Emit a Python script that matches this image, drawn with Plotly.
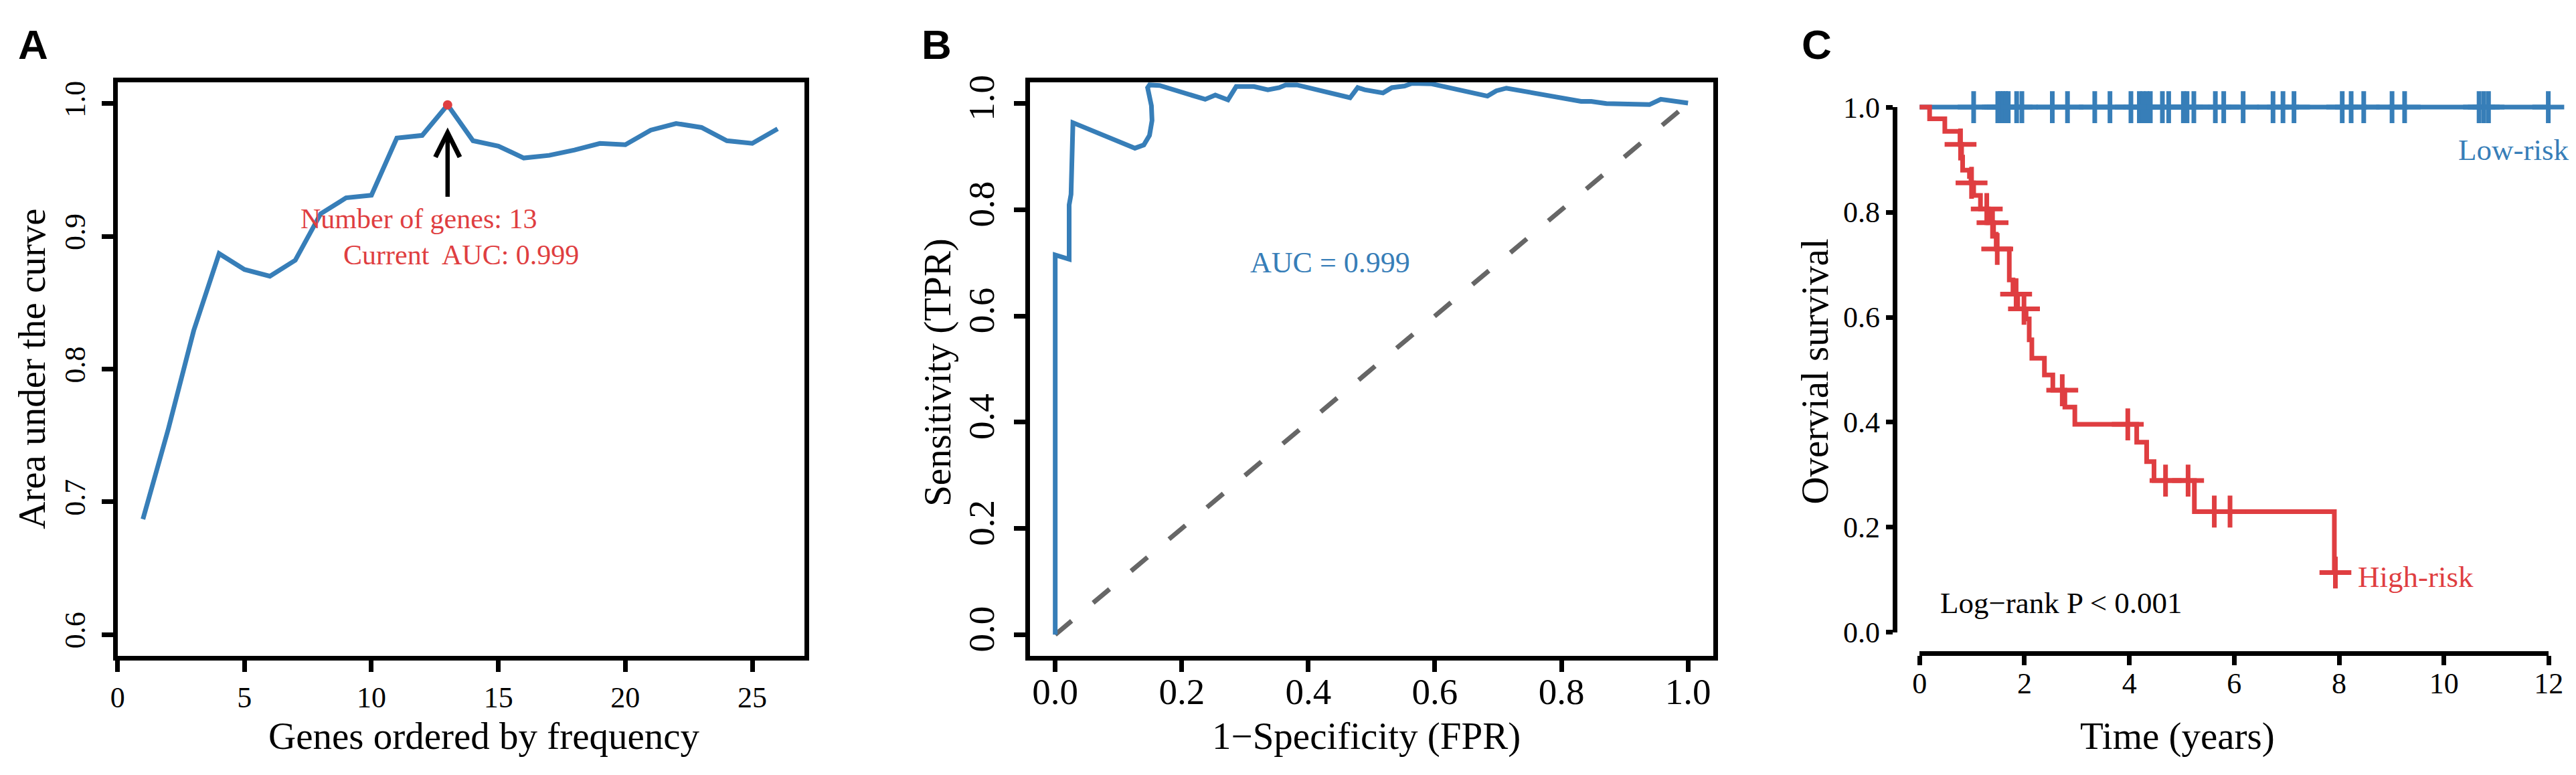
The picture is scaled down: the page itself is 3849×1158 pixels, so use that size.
import plotly.graph_objects as go

W, H = 3849, 1158
SERIF = "Liberation Serif, Times New Roman, serif"
SANS = "Liberation Sans, Arial, sans-serif"
BLUE = "#377EB8"
RED = "#DF3E41"
GRAY = "#666666"
LW = 7

# ---------------- Panel A data ----------------
gene_counts = [1, 2, 3, 4, 5, 6, 7, 8, 9, 10, 11, 12, 13,
               14, 15, 16, 17, 18, 19, 20, 21, 22, 23, 24, 25, 26]
auc_by_count = [0.687, 0.755, 0.829, 0.887, 0.875, 0.870, 0.882, 0.917, 0.929,
                0.931, 0.974, 0.976, 0.999, 0.972, 0.968, 0.959, 0.961, 0.965,
                0.970, 0.969, 0.980, 0.985, 0.982, 0.972, 0.970, 0.981]
a_xticks = [0, 5, 10, 15, 20, 25]
a_yticks = [0.6, 0.7, 0.8, 0.9, 1.0]
a_yticklabels = ["0.6", "0.7", "0.8", "0.9", "1.0"]

# ---------------- Panel B data ----------------
roc_fpr = [0.000, 0.000, 0.022, 0.022, 0.025, 0.028, 0.126, 0.140, 0.149, 0.153,
           0.152, 0.146, 0.149, 0.165, 0.237, 0.253, 0.273, 0.286, 0.314, 0.336,
           0.354, 0.364, 0.382, 0.466, 0.478, 0.489, 0.518, 0.532, 0.552, 0.564,
           0.595, 0.683, 0.697, 0.713, 0.831, 0.847, 0.871, 0.891, 0.905, 0.939,
           0.957, 1.000]
roc_tpr = [0.000, 0.715, 0.707, 0.809, 0.829, 0.964, 0.916, 0.922, 0.940, 0.968,
           0.996, 1.030, 1.035, 1.034, 1.008, 1.016, 1.007, 1.032, 1.032, 1.026,
           1.030, 1.035, 1.035, 1.011, 1.030, 1.026, 1.020, 1.030, 1.033, 1.038,
           1.037, 1.014, 1.024, 1.029, 1.004, 1.004, 1.000, 1.000, 0.998, 0.998,
           1.008, 1.001]
chance_line = [0.0, 1.0]
b_ticks = [0.0, 0.2, 0.4, 0.6, 0.8, 1.0]
b_ticklabels = ["0.0", "0.2", "0.4", "0.6", "0.8", "1.0"]
roc_auc = 0.999

# ---------------- Panel C data ----------------
high_step_times = [0.0, 0.19, 0.48, 0.77, 0.80, 0.82, 0.95, 0.98, 1.03, 1.16, 1.31,
                   1.41, 1.46, 1.71, 1.78, 1.87, 2.03, 2.09, 2.14, 2.38, 2.54, 2.77,
                   2.96, 4.14, 4.33, 4.47, 5.24, 7.91]
high_step_surv = [1.000, 0.978, 0.954, 0.929, 0.905, 0.880, 0.868, 0.856, 0.832,
                  0.806, 0.780, 0.758, 0.730, 0.671, 0.644, 0.616, 0.597, 0.557,
                  0.522, 0.490, 0.461, 0.429, 0.396, 0.362, 0.325, 0.289, 0.230,
                  0.114]
high_censor_times = [0.78, 0.99, 1.28, 1.39, 1.48, 1.84, 1.99, 2.72, 3.97,
                     4.69, 5.12, 5.62, 5.92, 7.93]
low_censor_times = [1.03, 1.49, 1.54, 1.59, 1.64, 1.69, 1.85, 1.95, 2.53, 2.82,
                    3.34, 3.63, 4.03, 4.19, 4.26, 4.33, 4.40, 4.63, 4.75, 5.03,
                    5.10, 5.23, 5.64, 5.80, 6.17, 6.74, 6.93, 7.14, 8.06, 8.23,
                    8.47, 9.01, 9.25, 10.67, 10.76, 10.85, 11.99]
c_xticks = [0, 2, 4, 6, 8, 10, 12]
c_yticks = [0.0, 0.2, 0.4, 0.6, 0.8, 1.0]
c_yticklabels = ["0.0", "0.2", "0.4", "0.6", "0.8", "1.0"]


def surv_at(t):
    s = high_step_surv[0]
    for tt, ss in zip(high_step_times, high_step_surv):
        if tt <= t:
            s = ss
    return s


def px_x(px):
    return px / W


def px_y(py):
    return 1 - py / H


# ---------------- layout geometry (pixels) ----------------
A_X = (158, 1193)
B_X = (1533, 2563)
AB_Y = (95, 990)          # top, bottom
C_X = (2836, W)
C_Y = (101, 986)
A_XR = [0, 27.05]
A_YR = [0.584, 1.016]
B_R = [-0.04, 1.04]
C_XR = [-0.48, 12.34]
C_YR = [-0.04, 1.04]

fig = go.Figure()

# Panel A
best_i = max(range(len(auc_by_count)), key=lambda i: auc_by_count[i])
best_n = gene_counts[best_i]
best_auc = auc_by_count[best_i]
fig.add_trace(go.Scatter(x=gene_counts, y=auc_by_count, mode="lines",
                         line=dict(color=BLUE, width=LW), xaxis="x", yaxis="y",
                         showlegend=False, hoverinfo="skip"))
fig.add_trace(go.Scatter(x=[best_n], y=[best_auc], mode="markers",
                         marker=dict(color=RED, size=14), xaxis="x", yaxis="y",
                         showlegend=False, hoverinfo="skip"))

# Panel B
fig.add_trace(go.Scatter(x=chance_line, y=chance_line, mode="lines",
                         line=dict(color=GRAY, width=LW, dash="32px,42px"),
                         xaxis="x2", yaxis="y2", showlegend=False, hoverinfo="skip"))
fig.add_trace(go.Scatter(x=roc_fpr, y=roc_tpr, mode="lines",
                         line=dict(color=BLUE, width=LW),
                         xaxis="x2", yaxis="y2", showlegend=False, hoverinfo="skip"))

# Panel C
low_end = max(low_censor_times)
fig.add_trace(go.Scatter(x=[0, low_end], y=[1.0, 1.0], mode="lines",
                         line=dict(color=BLUE, width=LW),
                         xaxis="x3", yaxis="y3", showlegend=False, hoverinfo="skip"))
fig.add_trace(go.Scatter(x=low_censor_times, y=[1.0] * len(low_censor_times),
                         mode="markers",
                         marker=dict(symbol="cross-thin", size=34,
                                     line=dict(color=BLUE, width=LW)),
                         xaxis="x3", yaxis="y3", showlegend=False, hoverinfo="skip"))
high_x = high_step_times + [max(high_censor_times)]
high_y = high_step_surv + [high_step_surv[-1]]
fig.add_trace(go.Scatter(x=high_x, y=high_y, mode="lines", line_shape="hv",
                         line=dict(color=RED, width=LW),
                         xaxis="x3", yaxis="y3", showlegend=False, hoverinfo="skip"))
fig.add_trace(go.Scatter(x=high_censor_times, y=[surv_at(t) for t in high_censor_times],
                         mode="markers",
                         marker=dict(symbol="cross-thin", size=34,
                                     line=dict(color=RED, width=LW)),
                         xaxis="x3", yaxis="y3", showlegend=False, hoverinfo="skip"))
fig.add_trace(go.Scatter(x=[None], y=[None], xaxis="x4", yaxis="y4",
                         showlegend=False, hoverinfo="skip"))

tick_font_small = dict(family=SERIF, size=44, color="black")
tick_font_big = dict(family=SERIF, size=55, color="black")
common = dict(showgrid=False, zeroline=False, ticks="outside", tickcolor="black",
              tickwidth=7, linecolor="black", linewidth=7, showline=True)

# C decorative axis domains matching the data axes
c_xscale = (C_X[1] - C_X[0]) / (C_XR[1] - C_XR[0])
cx0 = C_X[0] + (0 - C_XR[0]) * c_xscale
cx1 = C_X[0] + (12 - C_XR[0]) * c_xscale
c_yscale = (C_Y[1] - C_Y[0]) / (C_YR[1] - C_YR[0])
cy_bot = C_Y[1] - (0 - C_YR[0]) * c_yscale
cy_top = C_Y[1] - (1 - C_YR[0]) * c_yscale

fig.update_layout(
    width=W, height=H, margin=dict(l=0, r=0, t=0, b=0),
    paper_bgcolor="white", plot_bgcolor="rgba(0,0,0,0)", showlegend=False,
    xaxis=dict(domain=[px_x(A_X[0]), px_x(A_X[1])], range=A_XR, anchor="y",
               tickvals=a_xticks, ticklen=17, mirror=True, tickfont=tick_font_small,
               ticklabelstandoff=0, **common),
    yaxis=dict(domain=[px_y(AB_Y[1]), px_y(AB_Y[0])], range=A_YR, anchor="x",
               tickvals=a_yticks, ticktext=a_yticklabels, tickangle=-90, ticklen=17,
               mirror=True, tickfont=tick_font_small, ticklabelstandoff=7, **common),
    xaxis2=dict(domain=[px_x(B_X[0]), px_x(B_X[1])], range=B_R, anchor="y2",
                tickvals=b_ticks, ticktext=b_ticklabels, ticklen=17, mirror=True,
                tickfont=tick_font_big, ticklabelstandoff=-18, **common),
    yaxis2=dict(domain=[px_y(AB_Y[1]), px_y(AB_Y[0])], range=B_R, anchor="x2",
                tickvals=b_ticks, ticktext=b_ticklabels, tickangle=-90, ticklen=17,
                mirror=True, tickfont=tick_font_big, ticklabelstandoff=8, **common),
    xaxis3=dict(domain=[px_x(C_X[0]), 1.0], range=C_XR, anchor="y3", visible=False),
    yaxis3=dict(domain=[px_y(C_Y[1]), px_y(C_Y[0])], range=C_YR, anchor="x3",
                visible=False),
    xaxis4=dict(domain=[px_x(cx0), px_x(cx1)], range=[0, 12], anchor="free",
                position=px_y(C_Y[1]), tickvals=c_xticks, ticklen=14,
                tickfont=tick_font_small, ticklabelstandoff=-11, **common),
    yaxis4=dict(domain=[px_y(cy_bot), px_y(cy_top)], range=[0, 1], anchor="free",
                position=px_x(C_X[0]), tickvals=c_yticks, ticktext=c_yticklabels,
                ticklen=10, tickfont=tick_font_small, **common),
)


def add_text(text, xpx, ypx, size, angle=0, color="black", family=SERIF,
             xanchor="center", yanchor="middle"):
    fig.add_annotation(text=text, x=px_x(xpx), y=px_y(ypx), xref="paper", yref="paper",
                       showarrow=False, textangle=angle, xanchor=xanchor,
                       yanchor=yanchor, font=dict(family=family, size=size, color=color))


# axis titles
add_text("Genes ordered by frequency", 711, 1115, 57)
add_text("Area under the curve", 28, 542, 57, angle=-90)
add_text("1\u2212Specificity (FPR)", 2040, 1115, 57)
add_text("Sensitivity (TPR)", 1394, 548, 57, angle=-90)
add_text("Time (years)", 3262, 1115, 57)
add_text("Overvial survival", 2716, 546, 57, angle=-90)

# panel letters
add_text("<b>A</b>", 6, 36, 62, family=SANS, xanchor="left")
add_text("<b>B</b>", 1368, 36, 62, family=SANS, xanchor="left")
add_text("<b>C</b>", 2694, 36, 62, family=SANS, xanchor="left")

# Panel A annotations
fig.add_annotation(x=best_n, y=best_auc - 0.017, ax=best_n, ay=best_auc - 0.070,
                   xref="x", yref="y", axref="x", ayref="y", text="", showarrow=True,
                   arrowhead=5, arrowwidth=6.5, arrowsize=1.1, arrowcolor="black",
                   standoff=0, startstandoff=0)
fig.add_annotation(x=best_n - 1.14, y=best_auc - 0.086, xref="x", yref="y",
                   text=f"Number of genes: {best_n}", showarrow=False,
                   font=dict(family=SERIF, size=42, color=RED))
fig.add_annotation(x=best_n + 0.54, y=best_auc - 0.113, xref="x", yref="y",
                   text=f"Current\u00a0 AUC: {best_auc:.3f}", showarrow=False,
                   font=dict(family=SERIF, size=42, color=RED))

# Panel B annotation
fig.add_annotation(x=0.434, y=0.700, xref="x2", yref="y2",
                   text=f"AUC = {roc_auc:.3f}", showarrow=False,
                   font=dict(family=SERIF, size=44, color=BLUE))

# Panel C annotations
fig.add_annotation(x=10.25, y=0.919, xref="x3", yref="y3", text="Low-risk",
                   showarrow=False, xanchor="left",
                   font=dict(family=SERIF, size=45, color=BLUE))
fig.add_annotation(x=8.33, y=0.105, xref="x3", yref="y3", text="High-risk",
                   showarrow=False, xanchor="left",
                   font=dict(family=SERIF, size=45, color=RED))
fig.add_annotation(x=2.70, y=0.056, xref="x3", yref="y3",
                   text="Log\u2212rank P &lt; 0.001", showarrow=False,
                   font=dict(family=SERIF, size=45, color="black"))

fig.write_html("out.html")
